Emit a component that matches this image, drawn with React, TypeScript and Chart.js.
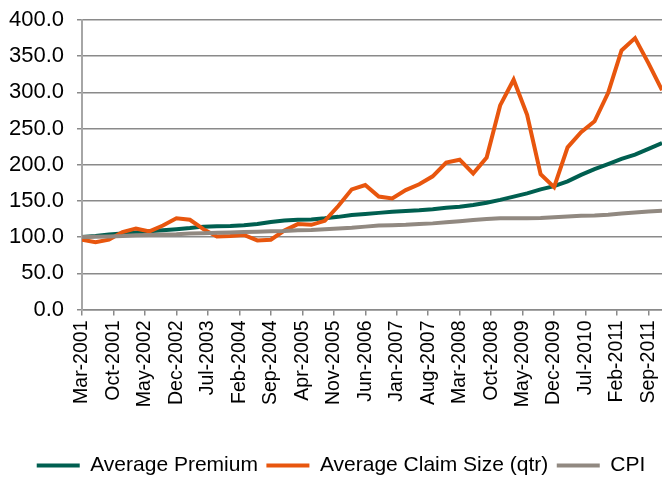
import React, { useEffect, useRef } from "react";
import { Chart, registerables } from "chart.js";

Chart.register(...registerables);

const quarters = [
  "Mar-2001", "Jun-2001", "Sep-2001", "Dec-2001",
  "Mar-2002", "Jun-2002", "Sep-2002", "Dec-2002",
  "Mar-2003", "Jun-2003", "Sep-2003", "Dec-2003",
  "Mar-2004", "Jun-2004", "Sep-2004", "Dec-2004",
  "Mar-2005", "Jun-2005", "Sep-2005", "Dec-2005",
  "Mar-2006", "Jun-2006", "Sep-2006", "Dec-2006",
  "Mar-2007", "Jun-2007", "Sep-2007", "Dec-2007",
  "Mar-2008", "Jun-2008", "Sep-2008", "Dec-2008",
  "Mar-2009", "Jun-2009", "Sep-2009", "Dec-2009",
  "Mar-2010", "Jun-2010", "Sep-2010", "Dec-2010",
  "Mar-2011", "Jun-2011", "Sep-2011", "Dec-2011",
];

const averagePremium = [
  100, 101.5, 103.5, 105, 106.5, 108, 109.5, 111,
  112.5, 114.5, 115, 115.5, 116.5, 118, 121, 123,
  124, 124.5, 126, 128, 130.5, 132, 133.5, 135,
  136, 137, 138.5, 140.5, 142, 144.5, 147.5, 151.5,
  156, 160.5, 166, 170.5, 177, 186, 194, 201,
  208, 214, 222, 230,
];

const averageClaimSize = [
  96.5, 93, 96.5, 107, 112, 108, 116, 126,
  124, 111, 101, 101.5, 103, 95.5, 96.5, 109,
  118, 117, 122.5, 143, 166, 172, 156, 153.5,
  165, 173, 184, 203, 207, 188, 210, 282,
  317.5, 269, 187, 169, 224, 245, 260, 299,
  358, 375, 340, 303,
];

const cpi = [
  100, 100.5, 101, 101.5, 102.5, 103, 103.5, 104,
  105, 105.5, 106, 106.5, 107, 107.5, 108, 108.5,
  109.5, 110, 111, 112, 113, 114.5, 116, 116.5,
  117, 118, 119, 120.5, 122, 123.5, 125, 126,
  126, 126, 126.5, 127.5, 128.5, 129.5, 130, 131,
  132.5, 134, 135.5, 136.5,
];

const xTickLabels = [
  "Mar-2001", "Oct-2001", "May-2002", "Dec-2002", "Jul-2003", "Feb-2004",
  "Sep-2004", "Apr-2005", "Nov-2005", "Jun-2006", "Jan-2007", "Aug-2007",
  "Mar-2008", "Oct-2008", "May-2009", "Dec-2009", "Jul-2010", "Feb-2011",
  "Sep-2011",
];

const seriesNames = ["Average Premium", "Average Claim Size (qtr)", "CPI"];
const seriesColors = ["#005f50", "#e8560e", "#918981"];

const MONTHS = ["Jan", "Feb", "Mar", "Apr", "May", "Jun", "Jul", "Aug", "Sep", "Oct", "Nov", "Dec"];

function monthIndex(label: string): number {
  const [m, y] = label.split("-");
  return (Number(y) - 2001) * 12 + MONTHS.indexOf(m) - 2;
}

function toPoints(values: number[]) {
  return values.map((v, i) => ({ x: monthIndex(quarters[i]), y: v }));
}

const FONT = "'Liberation Sans', Arial, sans-serif";

const legendShift = {
  id: "legendShift",
  afterLayout(chart: any) {
    const l = chart.legend;
    if (l) {
      l.left += 10;
      l.right += 10;
    }
  },
};

export default function App() {
  const canvasRef = useRef<HTMLCanvasElement | null>(null);

  useEffect(() => {
    if (!canvasRef.current) return;
    const series = [averagePremium, averageClaimSize, cpi];
    const chart = new Chart(canvasRef.current, {
      type: "line",
      data: {
        datasets: series.map((vals, i) => ({
          label: seriesNames[i],
          data: toPoints(vals),
          borderColor: seriesColors[i],
          backgroundColor: seriesColors[i],
          borderWidth: 4,
          pointRadius: 0,
          tension: 0,
          order: 3 - i,
        })),
      },
      plugins: [legendShift],
      options: {
        animation: false,
        responsive: true,
        maintainAspectRatio: false,
        layout: { padding: { left: 0, right: 0, top: 20, bottom: 0 } },
        plugins: {
          tooltip: { enabled: false },
          legend: {
            position: "bottom",
            labels: {
              usePointStyle: true,
              pointStyle: "line",
              pointStyleWidth: 43,
              padding: 8.5,
              color: "#000",
              font: { family: FONT, size: 21 },
              sort: (a: any, b: any) => a.datasetIndex - b.datasetIndex,
            },
          },
        },
        scales: {
          x: {
            type: "linear",
            min: monthIndex(quarters[0]),
            max: monthIndex(quarters[quarters.length - 1]),
            afterFit: (scale: any) => {
              scale.height = 137;
              scale.paddingLeft = 0;
              scale.paddingRight = 0;
            },
            grid: {
              drawOnChartArea: false,
              drawTicks: true,
              tickLength: 6,
              color: "#8a8a8a",
              lineWidth: 1.5,
            },
            border: { display: true, color: "#8a8a8a", width: 1.5 },
            ticks: {
              stepSize: 7,
              maxTicksLimit: 100,
              includeBounds: false,
              autoSkip: false,
              minRotation: 90,
              maxRotation: 90,
              padding: 5,
              color: "#000",
              font: { family: FONT, size: 19.5 },
              callback: (v: any) => {
                const lbl = xTickLabels.find((l) => monthIndex(l) === Number(v));
                return lbl ?? "";
              },
            },
          },
          y: {
            min: 0,
            max: 400,
            afterFit: (scale: any) => {
              scale.width = 82;
              scale.paddingTop = 0;
              scale.paddingBottom = 0;
            },
            grid: {
              color: "#8a8a8a",
              lineWidth: 1.5,
              tickLength: 5,
            },
            border: { display: true, color: "#a6a6a6", width: 2 },
            ticks: {
              stepSize: 50,
              padding: 13,
              color: "#000",
              font: { family: FONT, size: 22 },
              callback: (v: any) => Number(v).toFixed(1),
            },
          },
        },
      },
    });
    return () => chart.destroy();
  }, []);

  return (
    <div style={{ position: "absolute", left: 0, top: 0, width: 662, height: 486, background: "#fff" }}>
      <canvas ref={canvasRef} />
    </div>
  );
}
